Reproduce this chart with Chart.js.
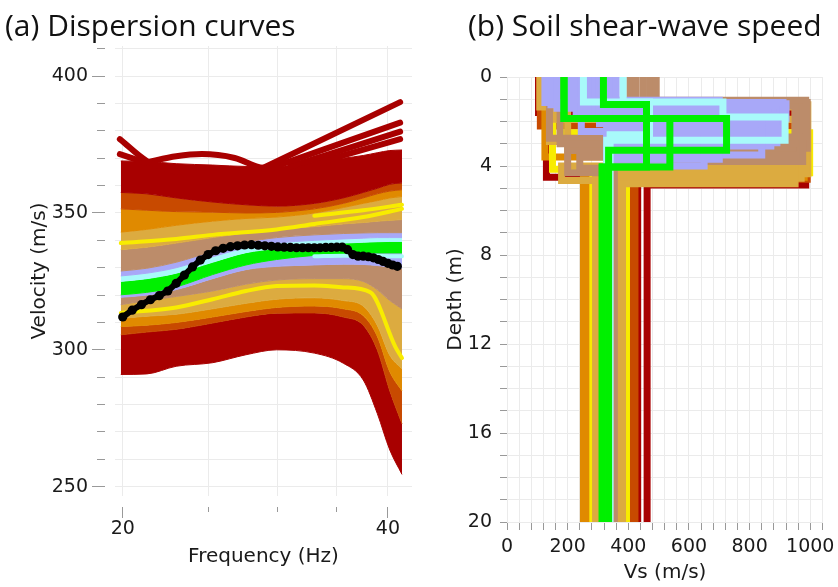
<!DOCTYPE html>
<html>
<head>
<meta charset="utf-8">
<script src="https://cdn.jsdelivr.net/npm/chart.js@4.4.0/dist/chart.umd.min.js"></script>
<style>
  body { margin: 0; background: #fff; width: 838px; height: 587px; position: relative; overflow: hidden; }
  canvas { position: absolute; top: 0; }
  .ttl { position: absolute; top: 4px; font: 30px 'Open Sans'; color: #111; white-space: nowrap; }
</style>
</head>
<body>
<canvas id="dispersion" width="420" height="587" style="left:0"></canvas>
<canvas id="profile" width="418" height="587" style="left:420px"></canvas>
<div class="ttl" style="left:5px">(a) Dispersion curves</div>
<div class="ttl" style="left:468px">(b) Soil shear-wave speed</div>
<script>
// ---- (a) dispersion curves: band edges (m/s) ----
const bandFreq = [19.9, 21.3, 23, 25.3, 27.6, 29.9, 33, 35.6, 37.5, 38.9, 40.2, 41.5];
const edgeRedHighTop     = [369, 368.8, 368, 367.5, 367, 367, 368.5, 370, 371, 372, 372.8, 373];
const edgeRedHighBase    = [357.5, 357, 355.5, 354, 353, 352.5, 353.5, 355.5, 357.5, 359, 360.5, 361];
const edgeDarkOrangeHigh = [351.5, 351, 350.5, 350.3, 350, 350.2, 351.5, 353.5, 355.5, 357, 358, 358.5];
const edgeOrangeHigh     = [343, 344, 345.5, 347, 348, 348.5, 350, 352, 353.5, 354.5, 355.5, 356];
const edgeGoldHigh       = [336.6, 337.5, 339, 341, 342.7, 344, 345, 346, 346.5, 347, 347.3, 347.6];
const edgeTanHigh        = [328.8, 329.8, 332, 336, 339.3, 341, 342, 342.5, 342.7, 342.8, 342.8, 342.8];
const edgeLavenderHigh   = [327, 328, 330, 334, 337.3, 339, 340, 340.5, 340.8, 341, 341, 341];
const edgeCyanHigh       = [325, 326, 328, 332, 335.5, 337, 338.5, 339, 339.3, 339.5, 339.6, 339.6];
const edgeGreenLow       = [320.1, 321, 323, 327.5, 331, 333, 334.5, 335, 335.3, 335.4, 335.4, 335.4];
const edgeLavenderLow    = [319.2, 320, 322, 326, 329.3, 330.5, 331, 331.3, 331.2, 330.8, 330.3, 329.9];
const edgeTanLow         = [316.5, 318, 319.5, 321.5, 324, 325.5, 326, 326, 325, 322, 318, 315];
const edgeGoldLow        = [311.5, 312.3, 313, 315, 317, 318.5, 319, 318, 316, 309, 298, 293];
const edgeOrangeLow      = [308.5, 309, 310, 312, 314, 315.5, 316, 315, 312.5, 305, 292, 285];
const edgeDarkOrangeLow  = [305.5, 306.5, 307.5, 309.8, 312, 313.4, 313.5, 312, 309, 300, 285, 273];
const edgeRedLowBase     = [291, 291.2, 294, 295.3, 298.2, 300, 298.8, 295.1, 289, 276.8, 263.4, 254.5];

// single curves standing out of the bands
const streakFreq = [
  [19.85, 21.3, 23],
  [19.85, 21.2],
  [21.3, 23, 24.6, 26.8, 28.9, 30],
  [28.9, 41.3],
  [29.5, 41.3],
  [31, 41.3],
  [33, 41.3],
  [19.9, 23, 25.3, 29.9, 33, 37.5, 41.5],
  [33, 37.5, 41.5],
  [19.9, 23, 25.3, 27.6, 29.9, 33, 35.6, 38.2, 40.8, 41.5],
  [33, 35.6, 37.5, 38.9, 40.2, 41.5]
];
const streakVel = [
  [377, 369, 365],
  [371.5, 368.5],
  [368.5, 370.7, 371.5, 370.1, 366.5, 366.5],
  [366.5, 390.5],
  [366.5, 383],
  [367, 379.7],
  [368, 377],
  [339, 340.5, 342, 344, 346, 348.5, 351.5],
  [349, 351, 353],
  [313.5, 315.5, 318.5, 321.5, 323.3, 323.5, 322.8, 321, 301, 297],
  [334.2, 334.4, 334.4, 334.3, 334.2, 334.2]
];
const streakKind = ['red', 'red', 'red', 'red', 'red', 'red', 'red', 'yellow', 'yellow', 'yellow', 'cyan'];

// observed curve (black dots)
const dotFreq = [20, 20.5, 21, 21.5, 22, 22.5, 23, 23.5, 24, 24.5, 25, 25.5, 26, 26.5, 27, 27.5, 28, 28.5,
  29, 29.5, 30, 30.5, 31, 31.5, 32, 32.5, 33, 33.5, 34, 34.5, 35, 35.5, 36, 36.5, 37, 37.5, 38, 38.5,
  39, 39.5, 40, 40.5, 41];
const dotVel = [312.0, 314.5, 316.5, 318.3, 319.8, 321.5, 324.3, 327.3, 330.3, 332.8, 334.8, 336.2, 337.1,
  337.7, 338.0, 338.3, 338.4, 338.2, 338.0, 337.8, 337.6, 337.5, 337.4, 337.3, 337.3, 337.3, 337.3, 337.3,
  337.4, 337.4, 337.5, 337.5, 336.6, 334.8, 334.2, 334.2, 334.0, 333.6, 333.0, 332.3, 331.6, 331.0, 330.5];
const freqTicks = [20, 25, 30, 35, 40];

// ---- (b) shear-wave profiles: layer speeds (m/s) and layer bottoms (m) ----
const profileVs = [
  [104, 985, 462], [106, 130, 975, 431],
  [110, 990, 411], [115, 960, 422],
  [112, 980, 252], [125, 945, 271],
  [150, 560, 283], [175, 998, 394],
  [120, 992, 292], [140, 970, 366], [160, 985, 381], [108, 950, 296], [200, 940, 180, 296],
  [140, 960, 200, 340], [175, 940, 240, 330], [405, 990, 354], [425, 965, 340],
  [448, 975, 345], [470, 950, 330], [492, 985, 340],
  [125, 905, 330], [145, 880, 330], [165, 915, 330], [210, 900, 330],
  [228, 860, 330], [270, 920, 330], [290, 890, 330], [340, 910, 330],
  [360, 870, 330], [305, 840, 330], [245, 650, 330], [200, 700, 330],
  [252, 470, 340], [383, 712, 917, 329],
  [188, 537, 314], [318, 460, 314], [188, 724, 335]
];
const profileBottom = [
  [1.6, 4.85], [1.3, 4.5, 4.7],
  [2.2, 4.6], [1.2, 4.4],
  [1.15, 4.5], [3.6, 4.7],
  [4.15, 4.45], [2.5, 4.3],
  [1.25, 4.35], [2.9, 4.55], [1.9, 4.2], [1.35, 4.8], [3.3, 4.0, 4.65],
  [2.75, 3.3, 4.3], [3.0, 3.6, 4.1], [1.15, 3.2], [1.3, 3.5],
  [1.1, 3.8], [1.2, 3.0], [1.05, 2.7],
  [1.15, 2.0], [1.25, 2.5], [1.4, 2.2], [1.3, 2.8],
  [1.55, 2.65], [1.2, 1.85], [1.7, 2.95], [1.15, 2.35],
  [1.9, 3.1], [2.1, 3.5], [2.45, 4.0], [1.05, 3.7],
  [1.12, 2.6], [1.12, 1.8, 2.84],
  [1.87, 4.04], [1.24, 4.04], [1.87, 3.29]
];
const profileKind = [
  'red', 'red',
  'darkorange', 'darkorange',
  'orange', 'orange',
  'yellow', 'yellow',
  'gold', 'gold', 'gold', 'gold', 'gold',
  'tan', 'tan', 'tan', 'tan', 'tan', 'tan', 'tan',
  'lavender', 'lavender', 'lavender', 'lavender', 'lavender', 'lavender',
  'lavender', 'lavender', 'lavender', 'lavender', 'lavender', 'lavender',
  'cyan', 'cyan',
  'green', 'green', 'green'
];
const depthMax = 20;

const colours = {
  red: '#a80000', darkorange: '#c84a00', orange: '#e08a00', gold: '#dcab40',
  yellow: '#f8ec00', tan: '#bc8c6a', lavender: '#a8a8f8', cyan: '#a8fafa', green: '#00f000'
};

const axisFont = { family: 'DejaVu Sans', size: 19 };
const titleFont = { family: 'DejaVu Sans', size: 20 };
const gridColour = '#ebebeb';
const tickColour = '#999';

// ---------- chart (a) ----------
const edges = [edgeRedHighTop, edgeRedHighBase, edgeDarkOrangeHigh, edgeOrangeHigh, edgeGoldHigh,
  edgeTanHigh, edgeLavenderHigh, edgeCyanHigh, edgeGreenLow, edgeLavenderLow, edgeTanLow,
  edgeGoldLow, edgeOrangeLow, edgeDarkOrangeLow, edgeRedLowBase];
const bandKind = [null, 'red', 'darkorange', 'orange', 'gold', 'tan', 'lavender', 'cyan', 'green',
  'lavender', 'tan', 'gold', 'orange', 'darkorange', 'red'];

let leftSets = [];
edges.forEach((vals, k) => {
  let col = colours[bandKind[k] || 'red'];
  leftSets.push({
    data: bandFreq.map((f, i) => ({ x: f, y: vals[i] })),
    fill: k === 0 ? false : '-1',
    backgroundColor: col,
    borderColor: col,
    borderWidth: 1,
    pointRadius: 0,
    cubicInterpolationMode: 'monotone',
    order: 10
  });
});
streakFreq.forEach((fs, k) => {
  leftSets.push({
    data: fs.map((f, i) => ({ x: f, y: streakVel[k][i] })),
    fill: false,
    borderColor: colours[streakKind[k]],
    borderWidth: streakKind[k] === 'red' ? 6 : 4,
    borderCapStyle: 'round',
    pointRadius: 0,
    cubicInterpolationMode: 'monotone',
    order: 5
  });
});
leftSets.push({
  data: dotFreq.map((f, i) => ({ x: f, y: dotVel[i] })),
  fill: false,
  borderColor: '#000',
  borderWidth: 6,
  pointRadius: 4.6,
  pointBackgroundColor: '#000',
  pointBorderWidth: 0,
  order: 0
});

new Chart(document.getElementById('dispersion').getContext('2d'), {
  type: 'line',
  data: { datasets: leftSets },
  options: {
    responsive: false,
    animation: false,
    devicePixelRatio: 1,
    layout: { padding: { top: 46, right: 8, left: 0, bottom: 0 } },
    plugins: { legend: { display: false }, tooltip: { enabled: false } },
    scales: {
      x: {
        type: 'logarithmic',
        min: 19.6,
        max: 42.6,
        afterBuildTicks: s => { s.ticks = freqTicks.map(v => ({ value: v })); },
        afterFit: s => { s.height = 91; },
        ticks: {
          autoSkip: false, maxRotation: 0, padding: 0, color: '#1a1a1a', font: axisFont,
          callback: v => (v === 20 || v === 40) ? String(v) : ''
        },
        grid: {
          color: gridColour, tickColor: tickColour, tickLength: 22,
          tickBorderDash: ctx => (ctx.tick && (ctx.tick.value === 20 || ctx.tick.value === 40)) ? [0, 11, 11, 60] : [0, 11, 5, 60]
        },
        border: { display: false },
        title: { display: true, text: 'Frequency (Hz)', color: '#1a1a1a', font: titleFont, padding: { top: 0, bottom: 18 } }
      },
      y: {
        min: 246.6,
        max: 411,
        afterFit: s => { s.width = 115; },
        ticks: {
          stepSize: 10, includeBounds: false, padding: 4, color: '#1a1a1a', font: axisFont,
          callback: v => v % 50 === 0 ? String(v) : ''
        },
        grid: {
          color: gridColour, tickColor: tickColour, tickLength: 23,
          tickBorderDash: ctx => (ctx.tick && ctx.tick.value % 50 === 0) ? [13, 60] : [0, 5, 8, 60]
        },
        border: { display: false },
        title: { display: true, text: 'Velocity (m/s)', color: '#1a1a1a', font: titleFont, padding: { top: 28, bottom: 0 } }
      }
    }
  }
});

// ---------- chart (b) ----------
let rightSets = profileVs.map((vs, k) => {
  let bottoms = profileBottom[k];
  let pts = [];
  let top = 0;
  vs.forEach((v, i) => {
    let bot = i < bottoms.length ? bottoms[i] : depthMax;
    pts.push({ x: v, y: top });
    pts.push({ x: v, y: bot });
    top = bot;
  });
  return {
    data: pts,
    fill: false,
    borderColor: colours[profileKind[k]],
    borderWidth: 7,
    borderJoinStyle: 'miter',
    borderCapStyle: 'butt',
    pointRadius: 0,
    tension: 0,
    order: profileVs.length - k
  };
});

new Chart(document.getElementById('profile').getContext('2d'), {
  type: 'line',
  data: { datasets: rightSets },
  options: {
    responsive: false,
    animation: false,
    devicePixelRatio: 1,
    layout: { padding: { top: 77, right: 15, left: 0, bottom: 0 } },
    plugins: { legend: { display: false }, tooltip: { enabled: false } },
    scales: {
      x: {
        type: 'linear',
        min: 0,
        max: 1042,
        afterFit: s => { s.height = 65; },
        ticks: {
          stepSize: 40, includeBounds: false, autoSkip: false, maxRotation: 0, padding: 5.6,
          color: '#1a1a1a', font: axisFont,
          callback: v => v % 200 === 0 ? String(v) : ''
        },
        grid: { color: gridColour, tickColor: tickColour, tickLength: 8 },
        border: { display: false },
        title: { display: true, text: 'Vs (m/s)', color: '#1a1a1a', font: titleFont, padding: { top: 0, bottom: 2 } }
      },
      y: {
        type: 'linear',
        reverse: true,
        min: 0,
        max: depthMax,
        afterFit: s => { s.width = 87; },
        ticks: {
          stepSize: 1, autoSkip: false, padding: 8, color: '#1a1a1a', font: axisFont,
          callback: v => v % 4 === 0 ? String(v) : ''
        },
        grid: { color: gridColour, tickColor: tickColour, tickLength: 7 },
        border: { display: false },
        title: { display: true, text: 'Depth (m)', color: '#1a1a1a', font: titleFont, padding: { top: 24, bottom: 0 } }
      }
    }
  }
});
</script>
</body>
</html>
